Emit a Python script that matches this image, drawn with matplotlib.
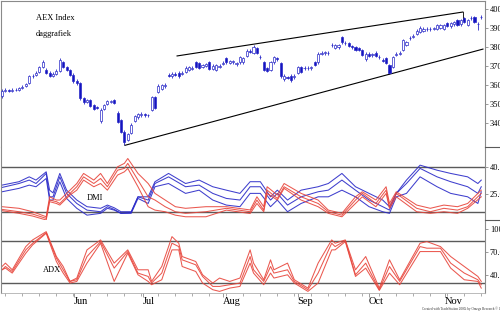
import numpy as np
import matplotlib
matplotlib.use("Agg")
import matplotlib.pyplot as plt
from matplotlib.lines import Line2D

plt.rcParams["font.family"] = ["Liberation Serif", "DejaVu Serif"]

# daily candles (trading-day index 0..141)
opens = [354, 357, 357.5, 357, 357.3, 357.5, 358.5, 359.5, 361, 364.5,
         365.5, 367, 369.5, 368, 366.5, 365, 366, 367.5, 372, 369.5,
         368, 365.5, 362, 361, 353, 351, 352, 349.5, 348.5, 341,
         347.5, 350, 351, 352, 345.5, 341.5, 335.5, 331, 335, 341,
         343, 344, 344.5, 344.3, 347, 353.5, 356.5, 358, 359.5, 365.5,
         364.5, 366, 366.5, 366, 367, 368, 368.5, 372, 371.5, 369.5,
         370, 372, 368.5, 368, 369.5, 371.3, 374, 371.5, 372, 371,
         372, 372, 375.5, 378, 377, 379.5, 375, 372, 369, 368,
         372, 374, 371.5, 363, 364.2, 365, 364, 366.5, 369.5, 368.8,
         369.2, 368.8, 372, 372, 376.5, 376.8, 376.6, 380.8, 379.5, 380,
         385, 382, 382, 380.5, 380, 379.5, 378.5, 373.5, 376.5, 375.8,
         377, 374.5, 373.2, 374, 370.5, 369.5, 376, 376.5, 378.5, 381,
         384.5, 385.5, 387, 388, 388.5, 389.3, 389.4, 389.5, 389.5, 390,
         389.5, 392.5, 391, 392, 394, 392, 395.3, 391.6, 395.1, 395.8,
         392.2, 395.6]
closes = [357, 357.5, 357, 357.5, 357.6, 358.5, 359, 360.5, 364.5, 365,
          366.5, 369.5, 372, 366.5, 365, 366, 367.5, 373, 369.5, 368,
          365.5, 362, 361, 353, 351, 352, 349, 347.5, 348, 347,
          349.5, 351.5, 351.5, 350.5, 340.5, 335.5, 330, 334, 339, 343.5,
          344.5, 345, 344, 344, 353.5, 348, 359.5, 360, 360, 365,
          366, 365.5, 364.5, 366.5, 369, 369.5, 369, 369.5, 369, 370.5,
          371, 368.5, 370, 370.5, 370, 371.7, 372, 372.5, 372.5, 371.5,
          374.5, 374, 378, 377.5, 380, 377, 374.5, 368, 367.5, 372,
          374.5, 373.5, 364.5, 365, 363.8, 362.5, 365, 369.5, 367, 369.2,
          368.8, 369.4, 370.5, 376.5, 377, 377.2, 377, 381.2, 381, 381,
          382.5, 382.3, 380.5, 380, 378.5, 378.5, 376, 376.5, 375.5, 376.3,
          375.5, 374.8, 372.8, 371.5, 366.5, 374.5, 376.5, 377, 383.5, 382.5,
          385, 386, 388.5, 390, 389.5, 389.6, 389.7, 389.8, 391.5, 391.5,
          391.5, 391, 392.5, 393, 391.5, 394, 393.2, 394, 395.5, 393.2,
          392, 395.9]
highs = [357.8, 358.2, 358.1, 358.3, 358.4, 359.1, 359.8, 361.2, 365.2, 365.9,
         367.3, 370.2, 373, 368.8, 367.2, 366.8, 368.2, 374, 372.8, 370.2,
         368.6, 366.1, 363, 361.6, 353.8, 352.8, 352.7, 350.2, 349.2, 347.8,
         350.2, 352.3, 352.3, 352.8, 346.2, 342.2, 336.2, 334.8, 339.8, 344.3,
         345.3, 345.8, 345.2, 345, 354.3, 354.2, 360.3, 360.8, 361, 366.2,
         366.8, 366.9, 367.2, 367.3, 369.8, 370.2, 369.9, 372.8, 372.2, 371.3,
         371.8, 372.7, 370.8, 371.2, 370.9, 372.5, 374.7, 373.2, 373.3, 372.3,
         375.2, 374.8, 378.8, 378.9, 380.8, 380.2, 375.8, 372.7, 369.7, 372.8,
         375.3, 374.8, 372.2, 365.8, 365, 365.7, 365.8, 370.2, 370.2, 370,
         370, 370.2, 372.7, 377.3, 377.8, 378, 377.8, 382, 381.8, 381.8,
         386, 383.1, 382.7, 381.3, 380.7, 380.2, 379.2, 377.3, 377.2, 377.1,
         377.7, 375.6, 374, 374.7, 371.2, 375.3, 377.3, 377.8, 384.3, 383.3,
         385.9, 386.8, 389.3, 390.8, 390.3, 390.4, 390.5, 390.6, 392.3, 392.2,
         392.3, 393.2, 393.3, 393.8, 394.7, 394.8, 396, 394.8, 396.3, 396.5,
         393, 396.7]
lows = [353.2, 356.4, 356.3, 356.5, 356.8, 357, 358, 358.9, 360.4, 363.8,
        364.9, 366.3, 369, 365.8, 364.2, 364.3, 365.4, 367, 368.9, 367.2,
        364.8, 361.2, 360.2, 352.2, 350.2, 350.3, 348.2, 346.8, 347.3, 340.2,
        346.8, 349.3, 350.3, 349.8, 339.8, 334.7, 328.6, 330.3, 334.3, 340.3,
        342.3, 343.3, 343.3, 343.2, 346.2, 347.3, 355.8, 357.2, 358.6, 364.3,
        363.8, 364.7, 363.8, 365.2, 366.3, 367.3, 367.8, 368.8, 368.2, 368.8,
        369.3, 367.8, 367.7, 367.3, 368.7, 370.5, 371.3, 370.8, 371.3, 370.2,
        371.3, 371.2, 374.8, 376.8, 376.3, 376.2, 373.8, 367.2, 366.7, 367.2,
        371.3, 372.7, 363.7, 362.2, 363, 361.8, 363.3, 365.8, 366.3, 368,
        368, 368.1, 369.8, 371.3, 375.8, 376, 375.9, 380, 378.8, 379.2,
        381.8, 381.2, 379.8, 379.2, 377.8, 377.8, 375.2, 372.8, 374.8, 375,
        374.7, 373.8, 372, 370.8, 365.6, 368.8, 375.2, 375.8, 377.8, 380.3,
        383.7, 384.8, 386.3, 387.3, 387.8, 388.5, 388.6, 388.7, 388.8, 389.3,
        388.8, 390.3, 390.2, 391.2, 390.8, 391.3, 392.5, 390.8, 394.3, 392.5,
        389, 394.8]

# trend lines (day, price)
upper_trend_days = [51.5, 135.6]
upper_trend_vals = [375.3, 398.4]
upper_trend_stub = [398.4, 394.2]
lower_trend_days = [36.2, 141.5]
lower_trend_vals = [328.3, 378.9]

# DMI: +DI (blue) and -DI (red), three periods each
blue_days = [0, 5, 8, 10, 13, 14, 15, 17, 19, 22, 25, 29, 31, 33, 35, 38, 40, 43, 45, 49,
             54, 58, 62, 66, 70, 73, 76, 79, 81, 84, 88, 93, 96, 100, 104, 108, 112, 114, 116, 119,
             123, 128, 132, 137, 140, 141]
plus_di_1 = [29.8, 31.7, 34.4, 32.6, 37.2, 27, 25.5, 36.3, 27, 21.5, 17.8, 16.9, 18.7, 17.2, 15, 15, 23.3, 23.3, 31.7, 36.3,
             30.7, 32.6, 28.9, 27, 25.2, 31.7, 31.7, 23.3, 27, 21.5, 27, 28.9, 30.7, 36.3, 28.9, 25.2, 21.5, 17.8, 25.2, 32.6,
             40.9, 38.1, 36.3, 34.4, 30.7, 32.6]
plus_di_2 = [28.5, 30.7, 32.6, 30.7, 36.3, 23.3, 23.3, 34.4, 25.2, 19.6, 15.9, 15, 17.8, 16.3, 14.1, 14.6, 23.3, 21.5, 30.7, 34.4,
             28.9, 29.8, 25.2, 22.4, 21.5, 28.9, 28.9, 21.5, 25.2, 18.7, 23.3, 26.1, 27, 32.6, 27, 21.5, 17.8, 15.9, 25.2, 30.7,
             39.1, 34.4, 31.7, 28.9, 25.2, 28.9]
plus_di_3 = [26.1, 28, 29.8, 28.9, 33.5, 21.5, 21.5, 31.7, 22.4, 16.9, 13.1, 14.1, 16.9, 15.9, 14.1, 14.1, 22.4, 19.6, 28.9, 30.7,
             25.2, 27, 21.5, 18.7, 17.8, 25.2, 25.2, 17.8, 21.5, 15, 19.6, 23.3, 23.3, 27, 23.3, 17.8, 15, 14.1, 23.3, 25.2,
             34.4, 28.9, 25.2, 23.3, 19.6, 26.1]
red_days = [0, 5, 9, 13, 14, 16, 17, 20, 22, 24, 27, 29, 31, 34, 36, 37, 40, 43, 45, 48,
            51, 54, 60, 66, 73, 75, 77, 78, 81, 83, 88, 93, 96, 100, 104, 106, 110, 113, 114, 116,
            122, 126, 130, 134, 137, 141]
minus_di_1 = [17.8, 16.9, 15, 12.2, 23.3, 21.5, 21.5, 27, 30.7, 36.3, 32.6, 36.3, 30.7, 40, 41.9, 44.6, 36.3, 30.7, 25.2, 21.5,
              17.8, 16.9, 17.8, 17.8, 16, 23.3, 17.8, 28.9, 24.3, 30.7, 25.2, 21.5, 15.9, 14.1, 23.3, 26.1, 21.5, 28.9, 19.6, 26.1,
              18.7, 16.9, 18.7, 17.8, 19.6, 27]
minus_di_2 = [16.3, 15, 13.7, 11.3, 21.5, 20.6, 19.6, 25.2, 28.9, 34.4, 30.7, 33.5, 28.9, 38.1, 39.1, 41.9, 32.6, 23.3, 21.5, 17.8,
              15, 14.1, 15, 16.9, 15, 21.5, 15.9, 27, 22.4, 28.9, 23.3, 19.6, 15, 13.1, 21.5, 25.2, 19.6, 27, 17.8, 25.2,
              16.9, 15, 16.9, 15.9, 17.8, 25.2]
minus_di_3 = [15.6, 14.1, 12.6, 10.4, 20.6, 19.6, 18.7, 24.3, 27, 32.6, 28.9, 30.7, 27, 35.4, 37.2, 39.1, 28.9, 17.8, 15.9, 15,
              13.1, 12.2, 12.2, 15.9, 14, 19.6, 15, 25.2, 21.5, 28, 21.5, 17.8, 14.1, 12.2, 19.6, 23.3, 17.8, 25.2, 16.9, 23.3,
              15, 14.1, 15, 14.1, 16.9, 23.3]

# ADX, three periods
adx_days = [0, 1, 3, 7, 9, 13, 16, 18, 20, 22, 25, 29, 33, 37, 40, 43, 44, 47, 50, 52,
            53, 57, 59, 62, 64, 67, 70, 73, 74, 77, 79, 80, 84, 86, 90, 93, 97, 98, 101, 104,
            107, 111, 114, 117, 123, 125, 129, 132, 136, 140, 141]
adx_1 = [51.6, 56, 47.3, 77.6, 86.3, 97.1, 64.6, 51.6, 32.1, 36.5, 73.3, 86.3, 56, 73.3, 47.3, 47.3, 32.1, 51.6, 90.6, 82,
         64.6, 58.1, 40.8, 30, 36.5, 32.1, 36.5, 73.3, 56, 34.3, 60.3, 47.3, 56, 34.3, 23.4, 56, 86.3, 82, 86.3, 47.3,
         64.6, 23.4, 60.3, 34.3, 82, 84.1, 77.6, 64.6, 51.6, 38.6, 32.1]
adx_2 = [47.3, 51.6, 45.1, 73.3, 82, 95.8, 62.5, 47.3, 32.1, 34.3, 64.6, 84.1, 49.5, 71.1, 43, 38.6, 30, 43, 82, 77.6,
         60.3, 53.8, 38.6, 25.6, 25.6, 27.8, 30, 64.6, 47.3, 32.1, 51.6, 43, 47.3, 32.1, 21.3, 43, 82, 77.6, 85.4, 40.8,
         56, 21.3, 51.6, 32.1, 77.6, 75.5, 75.5, 56, 43, 34.3, 27.8]
adx_3 = [47.3, 49.5, 43, 69, 79.8, 95, 58.1, 43, 30, 32.1, 56, 82, 32.1, 69, 40.8, 32.1, 27.8, 34.3, 73.3, 73.3,
         51.6, 45.1, 30, 21.3, 19.1, 23.4, 25.6, 56, 43, 27.8, 43, 36.5, 40.8, 30, 19.1, 30, 73.3, 73.3, 84.1, 38.6,
         49.5, 20.4, 43, 27.8, 71.1, 71.1, 71.1, 49.5, 34.3, 32.1, 23.4]

month_pos = [21.2, 41.5, 65, 87, 108, 130.3]
month_names = ["Jun", "Jul", "Aug", "Sep", "Oct", "Nov"]

BLUE = "#2a2ac8"
RED = "#e8463c"
GRID = "#5a5a5a"
SPINE = "#8a8a8a"

fig = plt.figure(figsize=(5.0, 3.12), dpi=100)
W, H = 500.0, 312.0
left = 1 / W
width = (485 - 1) / W


def panel(top_px, bot_px):
    return fig.add_axes([left, 1 - bot_px / H, width, (bot_px - top_px) / H])


ax_p = panel(1, 147)
ax_d = panel(147, 220)
ax_a = panel(220, 293)

days = np.arange(len(closes))
o = np.array(opens)
c = np.array(closes)
up = c >= o
body_lo = np.minimum(o, c)
body_h = np.maximum(np.abs(c - o), 0.3)
ax_p.vlines(days, lows, highs, color=BLUE, lw=0.6, zorder=2)
ax_p.bar(days, body_h, bottom=body_lo, width=0.62,
         color=np.where(up, "white", "#1414c0"), edgecolor=BLUE, linewidth=0.5, zorder=3)
ax_p.plot(upper_trend_days, upper_trend_vals, color="black", lw=0.8)
ax_p.plot([upper_trend_days[1]] * 2, upper_trend_stub, color="black", lw=0.6)
ax_p.plot(lower_trend_days, lower_trend_vals, color="black", lw=0.8)
ax_p.set_ylim(327.4, 404.2)
ax_p.set_yticks(np.arange(340, 401, 10))
ax_p.text(10.0, 395.3, "AEX Index", fontsize=6, va="center")
ax_p.text(10.0, 386.8, "daggrafiek", fontsize=6, va="center")

for v in (plus_di_1, plus_di_2, plus_di_3):
    ax_d.plot(blue_days, v, color=BLUE, lw=0.75, alpha=0.9)
for v in (minus_di_1, minus_di_2, minus_di_3):
    ax_d.plot(red_days, v, color=RED, lw=0.75, alpha=0.9)
ax_d.axhline(40, color=GRID, lw=1.0, zorder=0)
ax_d.axhline(15, color=GRID, lw=1.0, zorder=0)
ax_d.set_ylim(10.4, 51.0)
ax_d.set_yticks([25, 40])
ax_d.text(25.0, 22.5, "DMI", fontsize=6, va="center")

for v in (adx_1, adx_2, adx_3):
    ax_a.plot(adx_days, v, color=RED, lw=0.75, alpha=0.9)
ax_a.axhline(85, color=GRID, lw=1.0, zorder=0)
ax_a.axhline(30, color=GRID, lw=1.0, zorder=0)
ax_a.set_ylim(17.0, 112.3)
ax_a.set_yticks([40, 70, 100])
ax_a.text(12.0, 47.0, "ADX", fontsize=6, va="center")

for ax in (ax_p, ax_d, ax_a):
    ax.set_xlim(-0.3, 142.1)
    ax.yaxis.tick_right()
    ax.yaxis.set_major_formatter(matplotlib.ticker.FormatStrFormatter("%.1f"))
    ax.tick_params(axis="y", direction="out", length=2.5, width=0.6, color=SPINE,
                   labelsize=6, pad=1)
    for s in ("top", "bottom"):
        ax.spines[s].set_visible(False)
    ax.spines["left"].set_color(SPINE)
    ax.spines["left"].set_linewidth(0.8)
    ax.spines["right"].set_color(SPINE)
    ax.spines["right"].set_linewidth(0.8)
    if ax is not ax_a:
        ax.set_xticks([])

ax_p.spines["top"].set_visible(True)
ax_p.spines["top"].set_color(SPINE)
ax_p.spines["top"].set_linewidth(0.8)

ax_a.spines["bottom"].set_visible(True)
ax_a.spines["bottom"].set_color("#b0b0b0")
ax_a.spines["bottom"].set_linewidth(0.6)
ax_a.set_xticks(month_pos)
ax_a.set_xticklabels(month_names, ha="left", fontsize=7.5)
ax_a.set_xticks(np.arange(1, 142, 5), minor=True)
ax_a.tick_params(axis="x", which="major", direction="out", length=3, width=0.6,
                 color=SPINE, pad=0)
ax_a.tick_params(axis="x", which="minor", direction="out", length=2, width=0.5, color=SPINE)

# panel separators in the right-hand scale area
for ypx in (147, 220):
    fig.add_artist(Line2D([485 / W, 1.0], [1 - ypx / H] * 2, color=GRID, lw=0.8))

fig.text(0.845, 0.003, "Created with TradeStation 2000i by Omega Research \u00a9 1999",
         fontsize=2.4, color="#333333", ha="left", va="bottom")

fig.savefig("out.png", dpi=100)
